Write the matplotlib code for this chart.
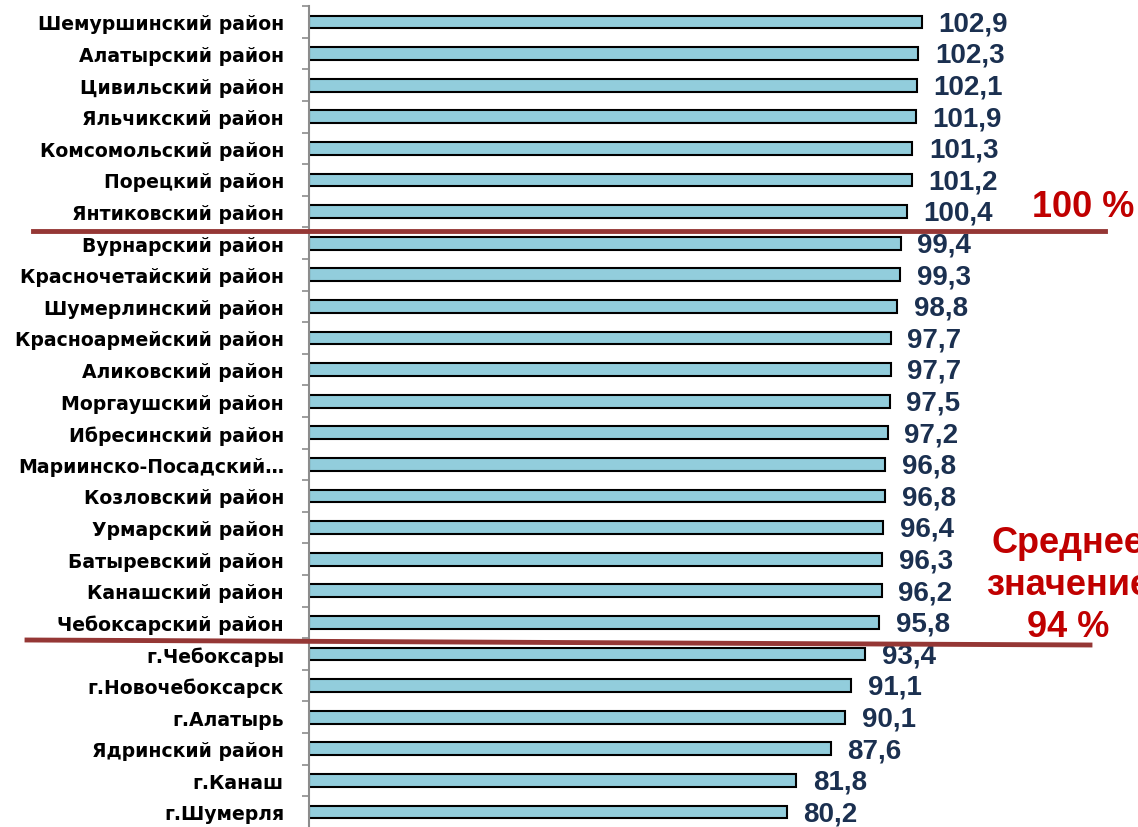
import matplotlib
matplotlib.use('Agg')
import matplotlib.pyplot as plt
from matplotlib.lines import Line2D

plt.rcParams['font.family'] = ['Liberation Sans', 'DejaVu Sans']

# данные сверху вниз
districts = ['Шемуршинский район', 'Алатырский район', 'Цивильский район',
             'Яльчикский район', 'Комсомольский район', 'Порецкий район',
             'Янтиковский район', 'Вурнарский район', 'Красночетайский район',
             'Шумерлинский район', 'Красноармейский район', 'Аликовский район',
             'Моргаушский район', 'Ибресинский район', 'Мариинско-Посадский…',
             'Козловский район', 'Урмарский район', 'Батыревский район',
             'Канашский район', 'Чебоксарский район', 'г.Чебоксары',
             'г.Новочебоксарск', 'г.Алатырь', 'Ядринский район', 'г.Канаш',
             'г.Шумерля']
values = [102.9, 102.3, 102.1, 101.9, 101.3, 101.2, 100.4, 99.4, 99.3, 98.8,
          97.7, 97.7, 97.5, 97.2, 96.8, 96.8, 96.4, 96.3, 96.2, 95.8, 93.4,
          91.1, 90.1, 87.6, 81.8, 80.2]

W, H = 1138, 828
n = len(values)
row = 31.6
top = 7.2
fig = plt.figure(figsize=(W / 100, H / 100), dpi=100)
ax = fig.add_axes([309 / W, 1 - (top + n * row) / H, 120 * 5.954 / W, n * row / H])

y = list(range(n))
ax.barh(y, values, height=0.41, color='#92CDDC', edgecolor='black', linewidth=1.5)
ax.set_xlim(0, 120)
ax.set_ylim(n - 0.5, -0.5)

for i, v in enumerate(values):
    ax.annotate(f'{v:.1f}'.replace('.', ','), xy=(v, i), xytext=(12, -1),
                textcoords='offset points', va='center', ha='left',
                fontsize=20, fontweight='bold', color='#1B3050')

ax.set_yticks(y)
ax.set_yticklabels(districts, fontsize=13.6, fontweight='bold',
                   family='DejaVu Sans')
ax.set_yticks([i + 0.5 for i in range(-1, n)], minor=True)
ax.tick_params(axis='y', which='major', length=0, pad=18)
ax.tick_params(axis='y', which='minor', length=5, width=1.2, color='#8C8C8C')
ax.xaxis.set_visible(False)
for s in ['top', 'right', 'bottom']:
    ax.spines[s].set_visible(False)
ax.spines['left'].set_color('#8C8C8C')
ax.spines['left'].set_linewidth(1.5)

line_col = '#953735'
fig.lines.append(Line2D([33 / W, 1105 / W], [1 - 232 / H, 1 - 232 / H],
                        transform=fig.transFigure, color=line_col, lw=3.5))
fig.lines.append(Line2D([27 / W, 1090 / W], [1 - 641 / H, 1 - 646 / H],
                        transform=fig.transFigure, color=line_col, lw=3.5))

fig.text(1032 / W, 1 - 217 / H, '100 %', color='#C00000', fontsize=26,
         fontweight='bold', ha='left', va='baseline')
fig.text(1068 / W, 1 - 637 / H, 'Среднее\nзначение\n94 %', color='#C00000',
         fontsize=26, fontweight='bold', ha='center', va='baseline',
         multialignment='center', linespacing=1.25)

fig.savefig('out.png', dpi=100)
